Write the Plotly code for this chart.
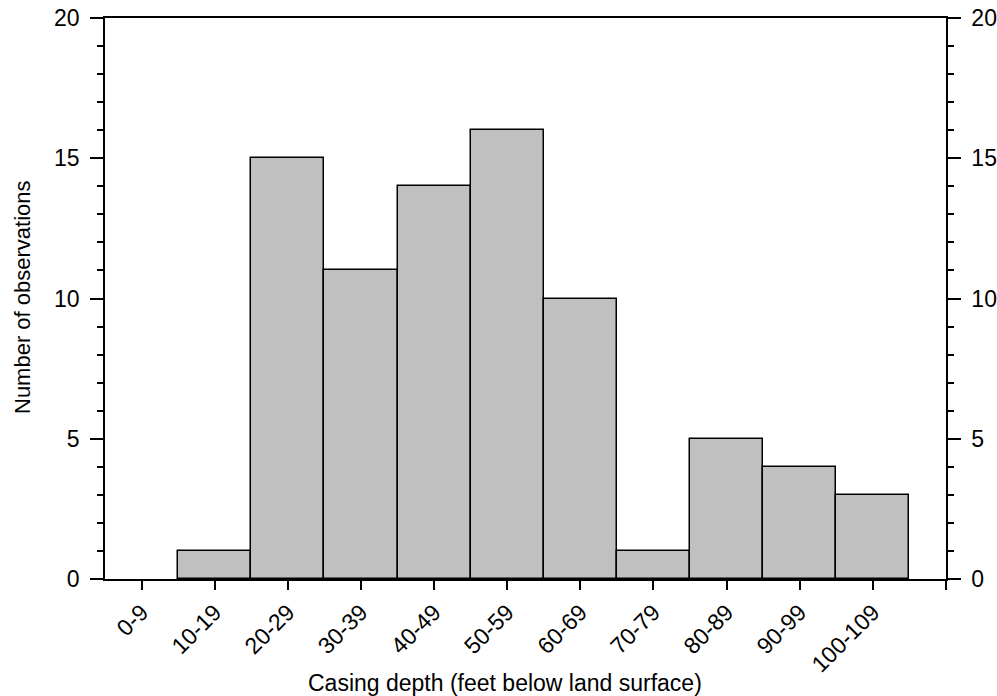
import plotly.graph_objects as go

categories = ["0-9", "10-19", "20-29", "30-39", "40-49", "50-59",
              "60-69", "70-79", "80-89", "90-99", "100-109"]
counts = [0, 1, 15, 11, 14, 16, 10, 1, 5, 4, 3]
y_ticks = [0, 5, 10, 15, 20]
x_title = "Casing depth (feet below land surface)"
y_title = "Number of observations"

positions = list(range(len(categories)))
FONT = "Liberation Sans, Arial, sans-serif"
FS_TICK = 23

# hide the outline of empty bins
line_widths = [1.5 if c > 0 else 0 for c in counts]

fig = go.Figure()
fig.add_trace(go.Bar(
    x=positions, y=counts, width=1.0,
    marker=dict(color="#c0c0c0", line=dict(color="black", width=line_widths)),
    showlegend=False, hoverinfo="skip",
))
fig.add_trace(go.Scatter(
    x=[0], y=[0], yaxis="y2", mode="markers",
    marker=dict(opacity=0), showlegend=False, hoverinfo="skip",
))

axis_font = dict(family=FONT, size=FS_TICK, color="black")

L, R, T, B = 105, 51, 18, 117
PW = 997 - L - R
PH = 696 - T - B

yaxis_common = dict(
    range=[0, 20],
    tickmode="array", tickvals=y_ticks,
    ticks="outside", ticklen=13, tickwidth=1.5, tickcolor="black",
    minor=dict(dtick=1, ticks="outside", ticklen=6, tickwidth=1.5, tickcolor="black"),
    showline=True, linecolor="black", linewidth=1.5,
    showgrid=False, zeroline=False, automargin=False,
    tickfont=axis_font, ticklabelstandoff=6,
)

fig.update_layout(
    width=997, height=696,
    margin=dict(l=L, r=R, t=T, b=B, autoexpand=False),
    paper_bgcolor="white", plot_bgcolor="white",
    bargap=0,
    font=dict(family=FONT, color="black"),
    xaxis=dict(
        range=[-0.5, 11],
        tickmode="array",
        tickvals=positions + [len(categories)],
        ticktext=categories + [""],
        tickangle=-45,
        ticks="outside", ticklen=9, tickwidth=1.5, tickcolor="black",
        showline=True, linecolor="black", linewidth=1.5, mirror=True,
        showgrid=False, zeroline=False, automargin=False,
        tickfont=axis_font,
    ),
    yaxis=dict(**yaxis_common),
    yaxis2=dict(**yaxis_common, overlaying="y", side="right"),
    annotations=[
        dict(text=x_title, xref="paper", yref="paper",
             x=(505 - L) / PW, y=-(683 - (T + PH)) / PH,
             xanchor="center", yanchor="middle", showarrow=False,
             font=dict(family=FONT, size=23, color="black")),
        dict(text=y_title, xref="paper", yref="paper",
             x=(22 - L) / PW, y=1 - (297 - T) / PH, textangle=-90,
             xanchor="center", yanchor="middle", showarrow=False,
             font=dict(family=FONT, size=22, color="black")),
    ],
)

fig.write_html("out.html")
